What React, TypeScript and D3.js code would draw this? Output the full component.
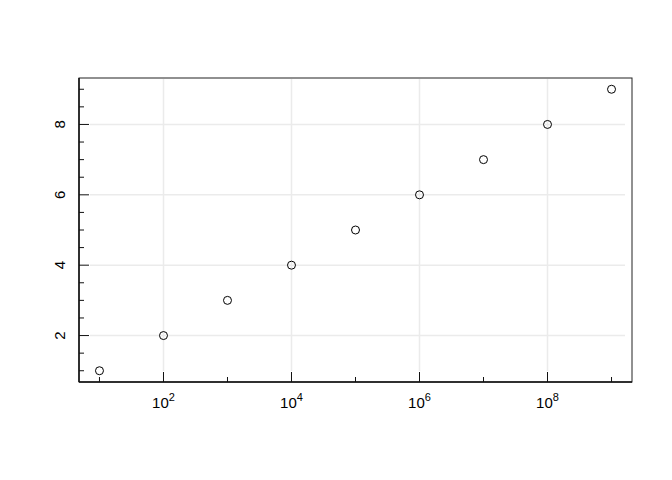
import React from "react";
import * as d3 from "d3";

const xValues = [1e1, 1e2, 1e3, 1e4, 1e5, 1e6, 1e7, 1e8, 1e9];
const yValues = [1, 2, 3, 4, 5, 6, 7, 8, 9];
const xTickExps = [1, 2, 3, 4, 5, 6, 7, 8, 9];
const xLabelExps = [2, 4, 6, 8];
const yTicks = [1, 1.5, 2, 2.5, 3, 3.5, 4, 4.5, 5, 5.5, 6, 6.5, 7, 7.5, 8, 8.5, 9];
const yLabels = [2, 4, 6, 8];

const W = 672;
const H = 480;
const L = 79, R = 632, T = 78, B = 382;

export default function App() {
  const x = d3.scaleLog().domain([Math.pow(10, 0.68), Math.pow(10, 9.32)]).range([L, R]);
  const y = d3.scaleLinear().domain([0.68, 9.32]).range([B, T]);
  const font = "'Liberation Sans', Arial, Helvetica, sans-serif";
  return (
    <svg width={W} height={H} style={{ position: "fixed", left: 0, top: 0, background: "#fff" }}>
      <rect x={0} y={0} width={W} height={H} fill="#fff" />
      {/* grid */}
      {xLabelExps.map((e) => (
        <line key={"gx" + e} x1={x(Math.pow(10, e))} x2={x(Math.pow(10, e))} y1={T + 1} y2={B - 11} stroke="#ebebeb" strokeWidth={1.5} />
      ))}
      {yLabels.map((v) => (
        <line key={"gy" + v} x1={L + 11} x2={R - 7} y1={y(v)} y2={y(v)} stroke="#ebebeb" strokeWidth={1.5} />
      ))}
      {/* box */}
      <rect x={L} y={T} width={R - L} height={B - T} fill="none" stroke="#222" strokeWidth={1} />
      <line x1={L} x2={L} y1={T} y2={B} stroke="#111" strokeWidth={1.5} />
      <line x1={L} x2={R} y1={B} y2={B} stroke="#111" strokeWidth={1.5} />
      {/* x ticks */}
      {xTickExps.map((e) => {
        const len = e % 2 === 0 ? 10 : 5;
        const xx = x(Math.pow(10, e));
        return <line key={"tx" + e} x1={xx} x2={xx} y1={B} y2={B - len} stroke="#111" strokeWidth={1} />;
      })}
      {/* y ticks */}
      {yTicks.map((v) => {
        const len = v % 2 === 0 ? 10 : 5;
        return <line key={"ty" + v} x1={L} x2={L + len} y1={y(v)} y2={y(v)} stroke="#111" strokeWidth={1} />;
      })}
      {/* x labels */}
      {xLabelExps.map((e) => (
        <text key={"lx" + e} x={x(Math.pow(10, e))} y={408} textAnchor="middle" fontFamily={font} fontSize={15} fill="#000">
          10
          <tspan dy={-7} fontSize={11}>{e}</tspan>
        </text>
      ))}
      {/* y labels */}
      {yLabels.map((v) => (
        <text key={"ly" + v} transform={`translate(65,${y(v)}) rotate(-90)`} textAnchor="middle" fontFamily={font} fontSize={15} fill="#000">
          {v}
        </text>
      ))}
      {/* points */}
      {xValues.map((xv, i) => (
        <circle key={"p" + i} cx={x(xv)} cy={y(yValues[i])} r={4} fill="none" stroke="#000" strokeWidth={1} />
      ))}
    </svg>
  );
}
